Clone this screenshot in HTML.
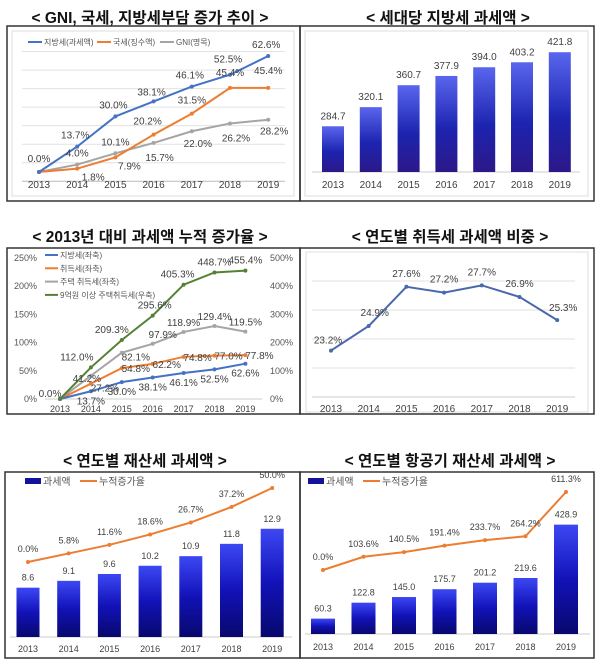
<!DOCTYPE html>
<html><head><meta charset="utf-8">
<style>
html,body{margin:0;padding:0;background:#fff;}
svg{display:block;font-family:"Liberation Sans","Noto Sans CJK KR",sans-serif;}
.t{font-weight:bold;font-size:15.5px;fill:#111;}
.v{font-size:10px;fill:#404040;}
.yr{font-size:10px;fill:#404040;}
.lg{font-size:8px;fill:#555;}
</style></head>
<body>
<svg id="s" width="600" height="665" viewBox="0 0 600 665" xmlns="http://www.w3.org/2000/svg">
<defs>
<linearGradient id="gA" x1="0" y1="0" x2="0" y2="1"><stop offset="0" stop-color="#5a66ee"/><stop offset="0.55" stop-color="#1c24b0"/><stop offset="1" stop-color="#2c1888"/></linearGradient>
<linearGradient id="gB" x1="0" y1="0" x2="0" y2="1"><stop offset="0" stop-color="#3c48f4"/><stop offset="0.5" stop-color="#1212b8"/><stop offset="1" stop-color="#08086e"/></linearGradient>
</defs>
<text class="t" x="150" y="23" text-anchor="middle">&lt; GNI, 국세, 지방세부담 증가 추이 &gt;</text>
<text class="t" x="448" y="23" text-anchor="middle">&lt; 세대당 지방세 과세액 &gt;</text>
<text class="t" x="150" y="242" text-anchor="middle">&lt; 2013년 대비 과세액 누적 증가율 &gt;</text>
<text class="t" x="450" y="242" text-anchor="middle">&lt; 연도별 취득세 과세액 비중 &gt;</text>
<text class="t" x="145" y="466" text-anchor="middle">&lt; 연도별 재산세 과세액 &gt;</text>
<text class="t" x="450" y="466" text-anchor="middle">&lt; 연도별 항공기 재산세 과세액 &gt;</text>
<rect x="7" y="26" width="293" height="175" fill="none" stroke="#333" stroke-width="1.5"/>
<rect x="300" y="26" width="294" height="175" fill="none" stroke="#333" stroke-width="1.5"/>
<rect x="7" y="248" width="293" height="166" fill="none" stroke="#333" stroke-width="1.5"/>
<rect x="300" y="248" width="294" height="166" fill="none" stroke="#333" stroke-width="1.5"/>
<rect x="5" y="472" width="295" height="186" fill="none" stroke="#333" stroke-width="1.5"/>
<rect x="300" y="472" width="294" height="186" fill="none" stroke="#333" stroke-width="1.5"/>
<rect x="12" y="31" width="282" height="165" fill="none" stroke="#ddd"/>
<rect x="305" y="31" width="283" height="165" fill="none" stroke="#ddd"/>
<rect x="306" y="252" width="282" height="160" fill="none" stroke="#ddd"/>
</svg>
<script>
const years=["2013","2014","2015","2016","2017","2018","2019"];
// chart 1
const c1Local=[0,13.7,30.0,38.1,46.1,52.5,62.6];
const c1National=[0,1.8,7.9,20.2,31.5,45.4,45.4];
const c1Gni=[0,4.0,10.1,15.7,22.0,26.2,28.2];
const c1Grid=[-5,5,15,25,35,45,55,65];
// chart 2
const c2Values=[284.7,320.1,360.7,377.9,394.0,403.2,421.8];
// chart 3
const c3Local=[0,13.7,30.0,38.1,46.1,52.5,62.6];
const c3Acq=[0,27.2,54.8,62.2,74.8,77.0,77.8];
const c3House=[0,41.2,82.1,97.9,118.9,129.4,119.5];
const c3Big=[0,112.0,209.3,295.6,405.3,448.7,455.4];
const c3LeftTicks=[0,50,100,150,200,250];
const c3RightTicks=[0,100,200,300,400,500];
// chart 4
const c4Share=[23.2,24.9,27.6,27.2,27.7,26.9,25.3];
const c4Grid=[22,24,26,28,30];
// chart 5
const c5Amount=[8.6,9.1,9.6,10.2,10.9,11.8,12.9];
const c5Rate=[0.0,5.8,11.6,18.6,26.7,37.2,50.0];
// chart 6
const c6Amount=[60.3,122.8,145.0,175.7,201.2,219.6,428.9];
const c6Rate=[0.0,103.6,140.5,191.4,233.7,264.2,611.3];

const S=document.getElementById('s');
const NS='http://www.w3.org/2000/svg';
function mk(tag,a){const e=document.createElementNS(NS,tag);for(const k in a)e.setAttribute(k,a[k]);S.appendChild(e);return e;}
function txt(x,y,s,cls,anchor){const e=mk('text',{x:x,y:y,class:cls,'text-anchor':anchor||'middle'});e.textContent=s;return e;}
function pct(v){return v.toFixed(1)+'%';}

// ---------- chart 1 ----------
const x1=i=>39+i*38.2, y1=v=>172-v*1.853;
c1Grid.forEach(g=>{const l=mk('line',{x1:22,x2:285,y1:y1(g),y2:y1(g),stroke:g===-5?'#bbb':'#e2e2e2'});

});
years.forEach((y,i)=>{const t=txt(x1(i),188,y,'yr');

});
function series(xf,yf,data,color,name,w){
  const pl=mk('polyline',{points:data.map((v,i)=>xf(i)+','+yf(v)).join(' '),fill:'none',stroke:color,'stroke-width':w||2});
  
  
  data.forEach((v,i)=>{const c=mk('circle',{cx:xf(i),cy:yf(v),r:2,fill:color});
  
  });
}
series(x1,y1,c1Gni,'#a5a5a5','chart1-gni');
series(x1,y1,c1National,'#ed7d31','chart1-national-tax');
series(x1,y1,c1Local,'#4472c4','chart1-local-tax');
const c1LocalDy=[-8,-8,-8,-6,-8,-12,-8], c1NatDy=[14,12,12,-10,-10,-12,-14], c1NatDx=[0,16,14,-6,0,0,0], c1GniDy=[-10,-8,-8,18,16,18,15];
c1Local.forEach((v,i)=>{const t=txt(x1(i)-(i===0?0:2),y1(v)+c1LocalDy[i],pct(v),'v');if(i===0)t.setAttribute('y',y1(v)-10);

});
c1National.forEach((v,i)=>{if(i===0)return;const t=txt(x1(i)+c1NatDx[i],y1(v)+c1NatDy[i],pct(v),'v');

});
c1Gni.forEach((v,i)=>{if(i===0)return;const t=txt(x1(i)+(i>2?6:0),y1(v)+c1GniDy[i],pct(v),'v');

});
[['지방세(과세액)','#4472c4',28],['국세(징수액)','#ed7d31',97],['GNI(명목)','#a5a5a5',160]].forEach(e=>{
  const l=mk('line',{x1:e[2],x2:e[2]+14,y1:42,y2:42,stroke:e[1],'stroke-width':2});
  
  
  const t=txt(e[2]+16,45,e[0],'lg','start');
  
  });

// ---------- chart 2 ----------
const x2=i=>333+i*37.8, y2=v=>172-(v-200)*0.54;
mk('line',{x1:312,x2:580,y1:172,y2:172,stroke:'#ccc'});
c2Values.forEach((v,i)=>{const r=mk('rect',{x:x2(i)-11,y:y2(v),width:22,height:172-y2(v),fill:'url(#gA)'});


const t=txt(x2(i),y2(v)-7,v.toFixed(1),'v');


const yl=txt(x2(i),188,years[i],'yr');

});

// ---------- chart 3 ----------
const x3=i=>60+i*30.9, yL=v=>399-v*0.564, yR=v=>399-v*0.282;
c3LeftTicks.forEach(v=>{const t=txt(37,yL(v)+3,v+'%','lg','end');t.style.fontSize='9px';

});
c3RightTicks.forEach(v=>{const t=txt(270,yR(v)+3,v+'%','lg','start');t.style.fontSize='9px';

});
mk('line',{x1:45,x2:262,y1:399,y2:399,stroke:'#ccc'});
years.forEach((y,i)=>{const t=txt(x3(i),412,y,'yr');t.style.fontSize='9px';

});
series(x3,yL,c3House,'#a5a5a5','chart3-house-acq');
series(x3,yL,c3Acq,'#ed7d31','chart3-acq-tax');
series(x3,yL,c3Local,'#4472c4','chart3-local-tax');
series(x3,yR,c3Big,'#548235','chart3-big-house');
c3Local.forEach((v,i)=>{if(i===0)return;const t=txt(x3(i),yL(v)+13,pct(v),'v');

});
c3Acq.forEach((v,i)=>{if(i===0)return;const t=txt(x3(i)+14,yL(v)+(i===1?8:4),pct(v),'v');

});
c3House.forEach((v,i)=>{if(i===0)return;const t=txt(x3(i)+(i===2?14:i===1?-4:i===3?10:0),yL(v)+(i===2?8:i===1?6:-6),pct(v),'v');

});
c3Big.forEach((v,i)=>{const t=txt(x3(i)+(i===0?-10:i===1?-14:i===2?-10:i===3?2:i===4?-6:0),yR(v)-(i===0?2:7),pct(v),'v');

});
[['지방세(좌축)','#4472c4'],['취득세(좌축)','#ed7d31'],['주택 취득세(좌축)','#a5a5a5'],['9억원 이상 주택취득세(우축)','#548235']].forEach((e,k)=>{
  const yy=255+k*13.3;
  const l=mk('line',{x1:45,x2:58,y1:yy,y2:yy,stroke:e[1],'stroke-width':2});
  
  
  const t=txt(60,yy+3,e[0],'lg','start');
  
  });

// ---------- chart 4 ----------
const x4=i=>331+i*37.7, y4=v=>397-(v-20)*14.5;
c4Grid.forEach(g=>{const l=mk('line',{x1:312,x2:575,y1:y4(g),y2:y4(g),stroke:'#e2e2e2'});

});
mk('line',{x1:312,x2:575,y1:397,y2:397,stroke:'#ccc'});
years.forEach((y,i)=>{const t=txt(x4(i),412,y,'yr');

});
series(x4,y4,c4Share,'#4a68ad','chart4-share');
c4Share.forEach((v,i)=>{const t=txt(x4(i)+(i===0?-3:i===1?6:i===6?6:i===5?0:0),y4(v)+(i===0?-7:i===6?-9:-10),pct(v),'v');

});

// ---------- chart 5 ----------
const x5=i=>28+i*40.7, y5=v=>637-(v-5)*13.7, r5=p=>562-p*1.48;
mk('line',{x1:10,x2:292,y1:637,y2:637,stroke:'#ccc'});
c5Amount.forEach((v,i)=>{const r=mk('rect',{x:x5(i)-11.5,y:y5(v),width:23,height:637-y5(v),fill:'url(#gB)'});


const t=txt(x5(i),y5(v)-7,v.toFixed(1),'v');t.style.fontSize='9px';


const yl=txt(x5(i),652,years[i],'yr');yl.style.fontSize='9px';

});
series(x5,r5,c5Rate,'#ed7d31','chart5-rate');
c5Rate.forEach((v,i)=>{const t=txt(x5(i),r5(v)-10,pct(v),'v');t.style.fontSize='9px';

});

// ---------- chart 6 ----------
const x6=i=>323+i*40.5, y6=v=>634-v*0.255, r6=p=>570-p*0.1276;
mk('line',{x1:305,x2:590,y1:634,y2:634,stroke:'#ccc'});
c6Amount.forEach((v,i)=>{const r=mk('rect',{x:x6(i)-12,y:y6(v),width:24,height:634-y6(v),fill:'url(#gB)'});


const t=txt(x6(i),y6(v)-7,v.toFixed(1),'v');t.style.fontSize='9px';


const yl=txt(x6(i),650,years[i],'yr');yl.style.fontSize='9px';

});
series(x6,r6,c6Rate,'#ed7d31','chart6-rate');
c6Rate.forEach((v,i)=>{const t=txt(x6(i),r6(v)-10,pct(v),'v');t.style.fontSize='9px';

});

// legends for bottom charts
[[25,480,'chart5'],[308,480,'chart6']].forEach(p=>{
  const r=mk('rect',{x:p[0],y:p[1]-2,width:16,height:6,fill:'#12129a'});
  
  
  const t=txt(p[0]+18,p[1]+5,'과세액','lg','start');t.style.fontSize='10px';
  
  
  const l=mk('line',{x1:p[0]+55,x2:p[0]+72,y1:p[1]+1,y2:p[1]+1,stroke:'#ed7d31','stroke-width':2});
  
  
  const t2=txt(p[0]+74,p[1]+5,'누적증가율','lg','start');t2.style.fontSize='10px';
  
  
});
</script>
</body></html>
